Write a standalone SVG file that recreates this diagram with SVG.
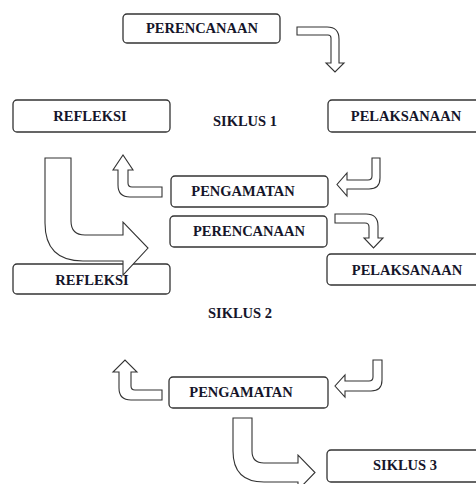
<svg xmlns="http://www.w3.org/2000/svg" width="476" height="484" viewBox="0 0 476 484">
<style>
.box{fill:#fff;stroke:#333;stroke-width:1.3}
.arr{fill:#fff;stroke:#333;stroke-width:1.1;stroke-linejoin:miter}
.t{font-family:"Liberation Serif","Times New Roman",serif;font-weight:bold;font-size:14.5px;fill:#15152a;text-anchor:middle}
</style>
<rect width="476" height="484" fill="#fff"/>
<g id="perencanaan1"><rect class="box" x="123" y="14" width="157" height="29" rx="4"/><text class="t" x="202" y="33">PERENCANAAN</text></g>
<g id="refleksi1"><rect class="box" x="13" y="100" width="157" height="32" rx="4"/><text class="t" x="90" y="121">REFLEKSI</text></g>
<g id="siklus1"><text class="t" x="245" y="126">SIKLUS 1</text></g>
<g id="pelaksanaan1"><rect class="box" x="328" y="100" width="160" height="32" rx="4"/><text class="t" x="406" y="121">PELAKSANAAN</text></g>
<g id="pengamatan1"><rect class="box" x="171" y="176" width="157" height="31" rx="4"/><text class="t" x="243" y="196">PENGAMATAN</text></g>
<g id="perencanaan2"><rect class="box" x="170" y="216" width="157" height="31" rx="4"/><text class="t" x="249" y="236">PERENCANAAN</text></g>
<g id="refleksi2"><rect class="box" x="13" y="264" width="157" height="30" rx="4"/><text class="t" x="92" y="285">REFLEKSI</text></g>
<g id="pelaksanaan2"><rect class="box" x="327" y="254" width="161" height="31" rx="4"/><text class="t" x="407" y="275">PELAKSANAAN</text></g>
<g id="siklus2"><text class="t" x="240" y="318">SIKLUS 2</text></g>
<g id="pengamatan2"><rect class="box" x="169" y="377" width="159" height="31" rx="4"/><text class="t" x="241" y="397">PENGAMATAN</text></g>
<g id="siklus3"><rect class="box" x="327" y="450" width="161" height="32" rx="4"/><text class="t" x="405" y="470">SIKLUS 3</text></g>
<g id="connectors">
<path class="arr" d="M297,27 L327,27 Q339,27 339,39 L339,63 L344,63 L335,72 L326,63 L331,63 L331,38 Q331,35 328,35 L297,35 Z"/>
<path class="arr" d="M372,158 L380,158 L380,178 Q380,189 369,189 L347,189 L347,196 L337,184.5 L347,173 L347,180 L368,180 Q372,180 372,176 Z"/>
<path class="arr" d="M162,187 L132,187 Q128,187 128,183 L128,170 L133,170 L123,155 L113,170 L118,170 L118,185 Q118,197 130,197 L162,197 Z"/>
<path class="arr" d="M45,158 L71,158 L71,221 Q71,235 85,235 L123,235 L123,222 L148,248 L123,275 L123,261 L83,261 Q45,261 45,223 Z"/>
<path class="arr" d="M335,214 L366,214 Q378,214 378,226 L378,238 L383,238 L373.5,248 L364,238 L369,238 L369,227 Q369,223 365,223 L335,223 Z"/>
<path class="arr" d="M373,360 L382,360 L382,380 Q382,391 371,391 L345,391 L345,397 L335,386 L345,375 L345,381 L369,381 Q373,381 373,377 Z"/>
<path class="arr" d="M162,390 L135,390 Q131,390 131,386 L131,372 L137,372 L125,360 L113,372 L119,372 L119,388 Q119,400 131,400 L162,400 Z"/>
<path class="arr" d="M233,418 L252,418 L252,451 Q252,463 264,463 L298,463 L298,455 L315,472.5 L298,490 L298,482 L264,482 Q233,482 233,451 Z"/>
</g>
</svg>
